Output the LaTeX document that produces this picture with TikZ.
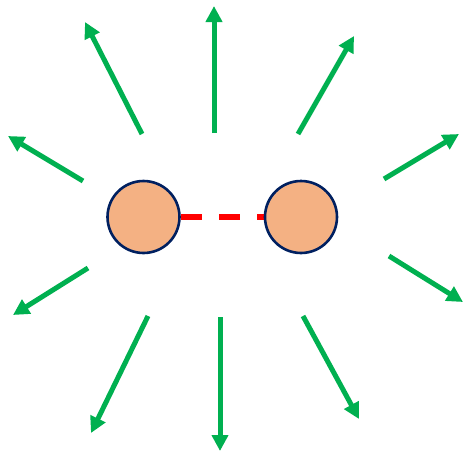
\documentclass[tikz,border=0pt]{standalone}
\usetikzlibrary{arrows.meta}
\definecolor{ballfill}{HTML}{F4B183}
\definecolor{ballline}{HTML}{002060}
\definecolor{arrgreen}{HTML}{00B050}
\definecolor{bondred}{HTML}{FF0000}
\begin{document}
\begin{tikzpicture}[x=1pt,y=-1pt,
  ball/.style={circle,draw=ballline,fill=ballfill,line width=2.6pt,minimum size=72pt,inner sep=0pt},
  ray/.style={draw=arrgreen,line width=5pt,-{Triangle[length=16pt,width=16pt]}},
  bond/.style={draw=bondred,line width=6pt,dash pattern=on 21pt off 17pt}]
\useasboundingbox (0,0) rectangle (464,453);
\coordinate (L) at (143.5,217);
\coordinate (R) at (301,217);
\draw[bond] (181,217) coordinate (b1) -- (264,217) coordinate (b2);
\node[ball] (Lb) at (L) {};
\node[ball] (Rb) at (R) {};
% rays
\coordinate (t1) at (142,134); \coordinate (h1) at (85,22);
\coordinate (t2) at (214,133); \coordinate (h2) at (214,6);
\coordinate (t3) at (298,134); \coordinate (h3) at (354,36);
\coordinate (t4) at (83,181);  \coordinate (h4) at (8,136);
\coordinate (t5) at (384,179); \coordinate (h5) at (459,134);
\coordinate (t6) at (88,268);  \coordinate (h6) at (13,315);
\coordinate (t7) at (389,256); \coordinate (h7) at (463,302);
\coordinate (t8) at (148,316); \coordinate (h8) at (91,433);
\coordinate (t9) at (220,317); \coordinate (h9) at (220,451);
\coordinate (t10) at (303,316); \coordinate (h10) at (359,419);
\foreach \i in {1,...,10} \draw[ray] (t\i) -- (h\i);
\end{tikzpicture}
\end{document}
